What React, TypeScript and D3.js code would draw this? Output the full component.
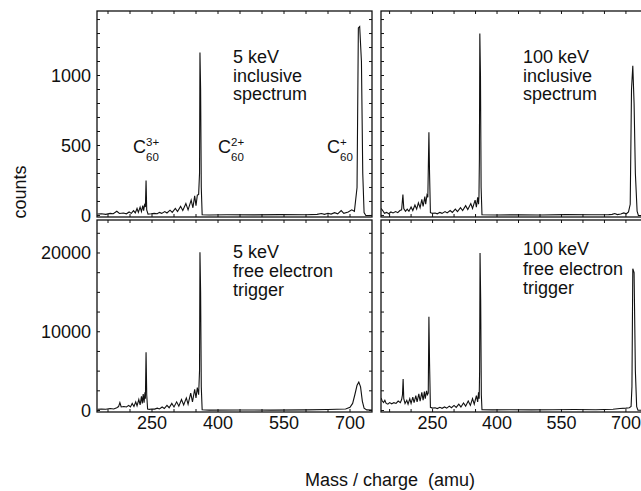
import React from 'react';
import * as d3 from 'd3';

type Pt = [number, number];

// tick labels
const massTicks = [250, 400, 550, 700];
const countTicksTop = [0, 500, 1000];
const countTicksBottom = [0, 10000, 20000];

// [mass (amu), counts]
const incl5: Pt[] = [
  [126, 10], [135, 12], [145, 8], [155, 15], [162, 12], [170, 30], [176, 14], [185, 18], [192, 12],
  [198, 25], [203, 15], [208, 35], [212, 18], [216, 50], [219, 22], [223, 60], [226, 28], [229, 70],
  [231, 35], [233, 75], [235, 60], [236.5, 250], [238, 40], [241, 10], [248, 12], [255, 15], [262, 12],
  [267, 22], [272, 15], [279, 28], [284, 18], [291, 38], [296, 22], [303, 50], [308, 28], [315, 65],
  [320, 35], [327, 85], [332, 40], [339, 110], [343, 55], [347, 140], [350, 70], [353, 145], [356, 150],
  [358, 300], [359, 1165], [360.5, 900], [362, 200], [364, 5], [380, 3], [420, 5], [480, 4], [540, 6],
  [600, 5], [625, 8], [635, 14], [642, 8], [650, 16], [657, 10], [665, 20], [672, 12], [680, 35],
  [686, 15], [696, 25], [704, 40], [710, 30], [716, 200], [719, 1340], [722, 1350], [726, 1100],
  [729, 300], [732, 20], [736, 0], [750, 0],
];

const incl100: Pt[] = [
  [130, 50], [134, 35], [138, 15], [143, 22], [148, 12], [153, 25], [158, 18], [164, 28], [169, 20],
  [174, 35], [178, 40], [181, 150], [183, 50], [187, 30], [191, 45], [195, 30], [200, 60], [204, 35],
  [209, 75], [213, 45], [217, 90], [221, 55], [225, 115], [228, 65], [232, 135], [234, 80], [237, 145],
  [239, 130], [241.5, 595], [243, 300], [245, 20], [250, 15], [256, 18], [261, 12], [267, 22], [272, 15],
  [279, 28], [284, 18], [291, 35], [296, 22], [303, 45], [308, 28], [315, 55], [320, 35], [327, 70],
  [332, 42], [339, 85], [343, 50], [349, 110], [352, 60], [355, 130], [357, 80], [358, 135], [359, 400],
  [360, 1300], [361.5, 1000], [363, 200], [365, 5], [400, 3], [450, 5], [500, 3], [560, 6], [620, 5],
  [660, 6], [668, 8], [674, 14], [680, 6], [688, 10], [695, 18], [701, 12], [706, 25], [710, 80],
  [713, 900], [716, 1070], [719, 800], [722, 300], [726, 30], [729, 0], [770, 0],
];

const trig5: Pt[] = [
  [126, 150], [135, 180], [145, 150], [155, 250], [163, 200], [170, 350], [174, 500], [177, 1000],
  [180, 450], [186, 500], [192, 450], [197, 650], [201, 450], [205, 900], [209, 500], [213, 1100],
  [216, 600], [220, 1400], [223, 700], [226, 1800], [228, 900], [230, 2100], [232, 1000], [234, 2300],
  [235, 1500], [236.5, 7400], [238, 2000], [240, 200], [244, 150], [250, 200], [256, 180], [262, 300],
  [267, 200], [273, 450], [278, 250], [284, 650], [289, 350], [295, 900], [300, 450], [306, 1100],
  [311, 550], [317, 1400], [322, 700], [328, 1600], [332, 800], [338, 2200], [342, 1100], [347, 2700],
  [350, 1600], [353, 2900], [356, 2000], [358, 5000], [359, 20100], [360.5, 15000], [362, 3000],
  [364, 100], [380, 50], [450, 60], [520, 50], [600, 80], [650, 120], [690, 200], [700, 400], [706, 900],
  [711, 2000], [716, 3200], [720, 3600], [724, 3000], [728, 1200], [732, 300], [738, 80], [750, 50],
];

const trig100: Pt[] = [
  [130, 1600], [133, 1200], [136, 1000], [139, 1300], [142, 900], [146, 800], [150, 1000], [155, 850],
  [160, 1000], [165, 900], [170, 1200], [175, 1000], [178, 1400], [180, 2000], [181.5, 4000], [183, 1500],
  [186, 900], [190, 1300], [193, 800], [197, 1500], [200, 900], [204, 1700], [207, 1000], [211, 1900],
  [214, 1100], [218, 2100], [221, 1200], [225, 2300], [228, 1300], [231, 2400], [233, 1500], [236, 2500],
  [238, 2000], [240, 2200], [241.5, 11900], [243, 6000], [245, 400], [250, 300], [256, 350], [261, 250],
  [267, 400], [272, 280], [278, 450], [283, 300], [289, 550], [294, 350], [300, 650], [305, 400],
  [311, 800], [316, 450], [322, 950], [327, 550], [333, 1200], [338, 650], [343, 1500], [347, 800],
  [352, 1900], [355, 1100], [357, 2300], [358.5, 1500], [359.5, 5000], [360.5, 20000], [362, 14000],
  [363.5, 2000], [365, 100], [390, 80], [430, 100], [480, 80], [530, 100], [580, 120], [630, 100],
  [670, 150], [686, 250], [700, 300], [708, 350], [712, 500], [714, 3000], [716, 18000], [719, 17500],
  [722, 5000], [725, 500], [728, 50], [770, 0],
];

const titles5Incl = ['5 keV', 'inclusive', 'spectrum'];
const titles100Incl = ['100 keV', 'inclusive', 'spectrum'];
const titles5Trig = ['5 keV', 'free electron', 'trigger'];
const titles100Trig = ['100 keV', 'free electron', 'trigger'];

const W = 641;
const H = 491;
const FONT = '"Liberation Sans", Arial, Helvetica, sans-serif';
const colX = [97, 381];
const panelW = 275;
const rows = [
  { top: 11, bottom: 217, domain: [-11, 1461], ticks: countTicksTop, minor: 100 },
  { top: 220, bottom: 412, domain: [-190, 24190], ticks: countTicksBottom, minor: 2500 },
];
const xDomains: [number, number][] = [[125, 750], [130, 770]];

const panels = [
  { row: 0, col: 0, data: incl5, title: titles5Incl, tx: 233, ty: [63, 81.5, 100] },
  { row: 0, col: 1, data: incl100, title: titles100Incl, tx: 523, ty: [63, 81.5, 100] },
  { row: 1, col: 0, data: trig5, title: titles5Trig, tx: 233, ty: [258, 277, 296] },
  { row: 1, col: 1, data: trig100, title: titles100Trig, tx: 523, ty: [255, 274.5, 294] },
];

function Panel({ p, i }: { p: (typeof panels)[number]; i: number }) {
  const r = rows[p.row];
  const x0 = colX[p.col];
  const x = d3.scaleLinear().domain(xDomains[p.col]).range([x0, x0 + panelW]);
  const y = d3.scaleLinear().domain(r.domain).range([r.bottom, r.top]);
  const line = d3.line<Pt>().x((d) => x(d[0])).y((d) => y(d[1]));
  const xMinor = d3.range(150, 800, 50).filter((m) => m > x.domain()[0] && m < x.domain()[1]);
  const yMinor = d3.range(0, r.domain[1], r.minor);
  const clipId = `clip${i}`;
  return (
    <g>
      <clipPath id={clipId}>
        <rect x={x0} y={r.top} width={panelW} height={r.bottom - r.top} />
      </clipPath>
      <path d={line(p.data) || ''} fill="none" stroke="#111" strokeWidth={1.1} clipPath={`url(#${clipId})`} />
      <rect x={x0} y={r.top} width={panelW} height={r.bottom - r.top} fill="none" stroke="#111" strokeWidth={1.3} />
      {xMinor.map((m) => (
        <g key={`xm${m}`} stroke="#111" strokeWidth={1}>
          <line x1={x(m)} x2={x(m)} y1={r.bottom} y2={r.bottom - 3} />
          <line x1={x(m)} x2={x(m)} y1={r.top} y2={r.top + 3} />
        </g>
      ))}
      {yMinor.map((c) => (
        <g key={`ym${c}`} stroke="#111" strokeWidth={1}>
          <line x1={x0} x2={x0 + 3} y1={y(c)} y2={y(c)} />
          <line x1={x0 + panelW} x2={x0 + panelW - 3} y1={y(c)} y2={y(c)} />
        </g>
      ))}
      {p.col === 0 &&
        r.ticks.map((t) => (
          <text key={`yl${t}`} x={x0 - 6} y={y(t)} dy="0.36em" textAnchor="end" fontSize={18}>
            {t}
          </text>
        ))}
      {p.row === 1 &&
        massTicks.map((t) => (
          <text key={`xl${t}`} x={x(t)} y={429} textAnchor="middle" fontSize={18}>
            {t}
          </text>
        ))}
      {p.title.map((s, k) => (
        <text key={`t${k}`} x={p.tx} y={p.ty[k]} fontSize={18}>
          {s}
        </text>
      ))}
    </g>
  );
}

function Ion({ x, y, charge }: { x: number; y: number; charge: string }) {
  return (
    <g>
      <text x={x} y={y} fontSize={18}>C</text>
      <text x={x + 13} y={y - 7} fontSize={11.5}>{charge}</text>
      <text x={x + 13} y={y + 8} fontSize={11.5}>60</text>
    </g>
  );
}

export default function App() {
  return (
    <svg
      width={W}
      height={H}
      viewBox={`0 0 ${W} ${H}`}
      style={{ position: 'absolute', left: 0, top: 0, background: '#fff' }}
      fontFamily={FONT}
      fill="#111"
    >
      <rect x={0} y={0} width={W} height={H} fill="#fff" />
      {panels.map((p, i) => (
        <Panel key={i} p={p} i={i} />
      ))}
      <Ion x={133} y={153} charge="3+" />
      <Ion x={218} y={153} charge="2+" />
      <Ion x={327} y={153} charge="+" />
      <text x={20} y={192} transform="rotate(-90 20 192)" textAnchor="middle" dy="0.35em" fontSize={18}>
        counts
      </text>
      <text x={390} y={486} textAnchor="middle" fontSize={18} style={{ whiteSpace: 'pre' }}>
        {'Mass / charge  (amu)'}
      </text>
    </svg>
  );
}
